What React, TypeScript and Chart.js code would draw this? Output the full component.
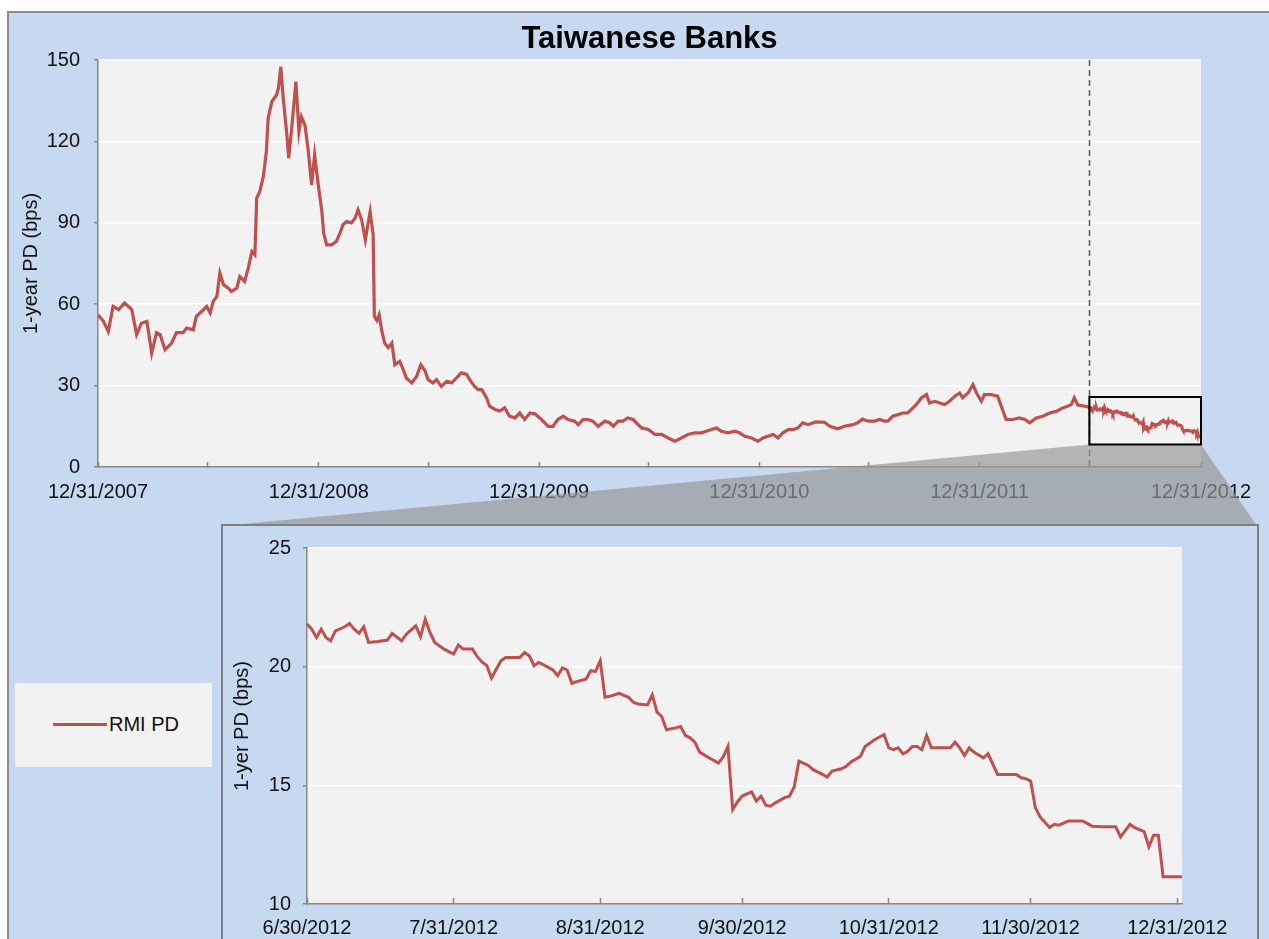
import React, { useEffect, useRef } from "react";
import { Chart, registerables } from "chart.js";

Chart.register(...registerables);

const FONT = '"Liberation Sans", Arial, Helvetica, sans-serif';
const LINE_COLOR = "#C0504D";
const PLOT_BG = "#F2F2F2";
const FRAME_BG = "#C6D9F1";
const AXIS_COLOR = "#878787";
const SERIES_LABEL = "RMI PD";

// ---- Top chart: days since 12/31/2007 and 1-year PD (bps) ----
const topDays = [
  0, 9, 17, 25, 34, 44, 56, 64, 72, 81, 89, 97, 103, 111, 122, 130, 141, 147, 158, 163,
  172, 180, 186, 191, 197, 202, 208, 216, 221, 230, 235, 243, 249, 255, 260, 263, 268, 274, 279, 282,
  288, 296, 299, 303, 307, 313, 316, 321, 328, 333, 337, 343, 348, 354, 359, 365, 371, 374, 379, 387,
  395, 401, 406, 412, 420, 426, 431, 437, 443, 451, 456, 458, 462, 466, 470, 475, 481, 487, 492, 500,
  506, 511, 520, 528, 535, 542, 547, 555, 561, 569, 578, 586, 594, 602, 611, 616, 624, 630, 636, 644,
  649, 658, 666, 674, 682, 691, 699, 707, 716, 724, 735, 746, 754, 762, 771, 779, 790, 796, 804, 812,
  820, 829, 840, 848, 854, 862, 870, 878, 887, 892, 901, 912, 923, 934, 945, 956, 967, 978, 989, 1000,
  1008, 1017, 1025, 1033, 1044, 1055, 1063, 1072, 1083, 1094, 1102, 1110, 1119, 1127, 1135, 1144, 1152, 1160, 1168, 1177,
  1189, 1204, 1213, 1226, 1237, 1251, 1259, 1267, 1276, 1287, 1295, 1304, 1309, 1317, 1326, 1334, 1342, 1348, 1356, 1365,
  1373, 1378, 1387, 1395, 1403, 1411, 1420, 1428, 1433, 1442, 1450, 1456, 1464, 1469, 1480, 1491, 1497, 1505, 1516, 1527,
  1536, 1544, 1555, 1566, 1577, 1588, 1599, 1607, 1613, 1618, 1624, 1632, 1640,
];
const topValues = [
  56.1, 53.7, 50, 59.2, 58, 60.4, 58, 48.8, 53, 53.7, 42, 49.5, 48.8, 43.2, 45.7, 49.5, 49.5, 51.2, 50.6, 55.5,
  57.4, 59.2, 56.8, 61, 62.9, 71.5, 67.2, 65.9, 64.7, 65.9, 70.2, 68.4, 73.3, 79.4, 78.2, 99.1, 101.5, 107, 116.2, 128.5,
  134.6, 137.1, 139.6, 147.5, 135.9, 122.4, 113.8, 124.8, 142, 123.6, 129.1, 126, 117.5, 104, 115, 104, 94.2, 86.2, 81.9, 81.9,
  83.1, 86.2, 89.3, 90.5, 90, 91.7, 94.8, 91, 83.7, 94.1, 85.6, 55.5, 54, 56.1, 50.6, 45.7, 44, 45.7, 37.7, 38.9,
  35.9, 32.8, 31, 33.4, 37.7, 35.5, 32.2, 31, 32.2, 29.7, 31.6, 31, 32.8, 34.7, 34.1, 32.2, 29.7, 28.5, 28.5, 25.5,
  22.4, 21.2, 20.6, 21.8, 18.7, 18.1, 19.9, 17.5, 19.9, 19.6, 17.5, 15, 15, 17.5, 18.7, 17.5, 16.9, 15.6, 17.5, 17.5,
  16.9, 15, 16.9, 16.3, 15, 16.9, 16.9, 18.1, 17.5, 16.3, 14.4, 13.8, 12, 12, 10.7, 9.5, 10.7, 12, 12.6, 12.6,
  13.2, 13.8, 14.4, 13.2, 12.6, 13.2, 12.6, 11.3, 10.7, 9.5, 10.7, 11.3, 12, 10.7, 12.6, 13.8, 13.8, 14.4, 16.3, 15.6,
  16.6, 16.5, 15, 14.1, 15, 15.6, 16.3, 17.7, 16.9, 16.9, 17.5, 16.9, 16.9, 18.7, 19.3, 19.9, 19.9, 21.2, 23, 25.5,
  26.7, 23.6, 24.2, 23.6, 23, 24.2, 26.1, 27.3, 25.5, 27.3, 30.4, 27.3, 24.2, 26.7, 26.7, 26.1, 22.4, 17.5, 17.5, 18.1,
  17.5, 16.3, 18.1, 18.7, 19.9, 20.5, 21.8, 22.4, 23, 25.5, 22.8, 22.5, 22.2,
];
const topTickDays = [0, 182, 366, 547, 731, 912, 1096, 1277, 1461, 1643, 1828];
const topTickLabels = ["12/31/2007", "", "12/31/2008", "", "12/31/2009", "", "12/31/2010", "", "12/31/2011", "", "12/31/2012"];

// ---- Inset: days since 6/30/2012 ----
const INSET_START_DAY = 1643; // 6/30/2012 in top-chart days
const insetDays = [
  0, 1, 2, 3, 4, 5, 6, 8, 9, 10, 11, 12, 13, 15, 17, 18, 20, 21, 23, 24,
  25, 26, 27, 29, 31, 32, 33, 35, 36, 37, 38, 39, 41, 42, 45, 46, 47, 48, 49, 50,
  51, 52, 53, 54, 55, 56, 57, 59, 60, 61, 62, 63, 64, 66, 68, 69, 70, 72, 73, 74,
  75, 76, 78, 79, 80, 81, 82, 83, 85, 87, 88, 89, 90, 91, 92, 94, 95, 96, 97, 98,
  99, 101, 102, 103, 104, 106, 107, 109, 110, 111, 113, 114, 115, 116, 117, 118, 120, 122, 123, 124,
  125, 126, 127, 128, 129, 130, 131, 132, 135, 136, 137, 138, 139, 140, 141, 143, 144, 146, 148, 150,
  151, 152, 153, 154, 155, 157, 158, 159, 161, 162, 164, 166, 168, 171, 172, 174, 175, 177, 178, 179,
  180, 181, 183, 185,
];
const insetValues = [
  21.8, 21.58, 21.23, 21.58, 21.23, 21.09, 21.51, 21.68, 21.82, 21.58, 21.41, 21.68, 21.02, 21.06, 21.12, 21.4, 21.09, 21.37, 21.72, 21.26,
  22.0, 21.44, 21.02, 20.74, 20.53, 20.92, 20.74, 20.74, 20.42, 20.2, 20.05, 19.52, 20.25, 20.39, 20.39, 20.6, 20.46, 20.04, 20.18, 20.08,
  19.97, 19.86, 19.62, 19.95, 19.86, 19.3, 19.37, 19.48, 19.83, 19.8, 20.25, 18.71, 18.75, 18.88, 18.71, 18.5, 18.43, 18.39, 18.81, 18.08,
  17.9, 17.34, 17.42, 17.48, 17.1, 17.0, 16.82, 16.4, 16.16, 15.94, 16.2, 16.64, 13.98, 14.3, 14.55, 14.72, 14.34, 14.54, 14.16, 14.12,
  14.26, 14.48, 14.54, 14.93, 16.02, 15.84, 15.66, 15.46, 15.35, 15.6, 15.7, 15.8, 15.98, 16.1, 16.22, 16.64, 16.92, 17.14, 16.58, 16.5,
  16.58, 16.33, 16.43, 16.64, 16.64, 16.5, 17.1, 16.58, 16.58, 16.58, 16.82, 16.58, 16.26, 16.58, 16.4, 16.16, 16.33, 15.46, 15.46, 15.46,
  15.32, 15.28, 15.18, 14.06, 13.67, 13.22, 13.36, 13.32, 13.5, 13.5, 13.5, 13.28, 13.25, 13.25, 12.83, 13.36, 13.22, 13.05, 12.41, 12.9,
  12.9, 11.15, 11.15, 11.15,
];
const insetTickDays = [0, 31, 62, 92, 123, 153, 184];
const insetTickLabels = ["6/30/2012", "7/31/2012", "8/31/2012", "9/30/2012", "10/31/2012", "11/30/2012", "12/31/2012"];

// zoom box value range drawn on the top chart
const BOX_TOP = 25.8;
const BOX_BOTTOM = 8.3;

// layout (page pixels)
const TOP_W = 1290;
const TOP_H = 530;
const INSET_BOX = { left: 221, top: 524, right: 1257 };
const INSET_W = 1036;
const INSET_H = 420;

const plotBg = {
  id: "plotBg",
  beforeDraw(chart: any) {
    const { ctx, chartArea: a } = chart;
    ctx.save();
    ctx.fillStyle = PLOT_BG;
    ctx.fillRect(a.left, a.top, a.right - a.left, a.bottom - a.top);
    ctx.restore();
  },
};

const zoomMarks = {
  id: "zoomMarks",
  beforeDatasetsDraw(chart: any) {
    const { ctx, chartArea: a, scales } = chart;
    const px = Math.round(scales.x.getPixelForValue(INSET_START_DAY)) + 0.5;
    ctx.save();
    ctx.strokeStyle = "#595959";
    ctx.lineWidth = 1.5;
    ctx.setLineDash([6, 4]);
    ctx.beginPath();
    ctx.moveTo(px, a.top);
    ctx.lineTo(px, a.bottom);
    ctx.stroke();
    ctx.restore();
  },
  afterDraw(chart: any) {
    const { ctx, scales } = chart;
    const l = scales.x.getPixelForValue(INSET_START_DAY);
    const r = chart.chartArea.right;
    const t = scales.y.getPixelForValue(BOX_TOP);
    const b = scales.y.getPixelForValue(BOX_BOTTOM);
    ctx.save();
    ctx.fillStyle = "rgba(151,151,151,0.68)";
    ctx.beginPath();
    ctx.moveTo(l, b);
    ctx.lineTo(r, b);
    ctx.lineTo(INSET_BOX.right, INSET_BOX.top + 2);
    ctx.lineTo(INSET_BOX.left, INSET_BOX.top + 2);
    ctx.closePath();
    ctx.fill();
    ctx.strokeStyle = "#000";
    ctx.lineWidth = 2;
    ctx.strokeRect(l, t, r - l, b - t);
    ctx.restore();
  },
};

const tickFont = { family: FONT, size: 20 };

export default function App() {
  const topRef = useRef<HTMLCanvasElement>(null);
  const insetRef = useRef<HTMLCanvasElement>(null);

  useEffect(() => {
    const topData = [
      ...topDays.map((d, i) => ({ x: d, y: topValues[i] })),
      ...insetDays.map((d, i) => ({ x: INSET_START_DAY + d, y: insetValues[i] })),
    ];
    const insetData = insetDays.map((d, i) => ({ x: d, y: insetValues[i] }));

    const topChart = new Chart(topRef.current as HTMLCanvasElement, {
      type: "line",
      data: {
        datasets: [
          {
            label: SERIES_LABEL,
            data: topData,
            borderColor: LINE_COLOR,
            borderWidth: 3.2,
            pointRadius: 0,
            tension: 0,
            fill: false,
          },
        ],
      },
      options: {
        responsive: false,
        animation: false,
        layout: { padding: { left: 0, right: TOP_W - 1201, top: 0, bottom: 0 } },
        plugins: {
          legend: { display: false },
          tooltip: { enabled: false },
          title: {
            display: true,
            text: "Taiwanese Banks",
            color: "#000",
            fullSize: false,
            font: { family: FONT, size: 31, weight: "bold", lineHeight: 1.1 },
            padding: { top: 22, bottom: 3.9 },
          },
        },
        scales: {
          x: {
            type: "linear",
            min: 0,
            max: 1828,
            afterBuildTicks: (s: any) => {
              s.ticks = topTickDays.map((v) => ({ value: v }));
            },
            afterFit: (s: any) => {
              s.height = TOP_H - 467;
            },
            ticks: {
              autoSkip: false,
              maxRotation: 0,
              minRotation: 0,
              padding: 18,
              color: "#111",
              font: tickFont,
              callback: (_v: any, i: number) => topTickLabels[i] ?? "",
            },
            grid: {
              display: true,
              drawOnChartArea: false,
              drawTicks: true,
              tickLength: -5,
              tickColor: AXIS_COLOR,
              tickWidth: 1.5,
            },
            border: { display: true, color: AXIS_COLOR, width: 1.5 },
          },
          y: {
            min: 0,
            max: 150,
            afterFit: (s: any) => {
              s.width = 98;
            },
            ticks: { stepSize: 30, padding: 14, color: "#111", font: tickFont },
            grid: {
              color: (c: any) => (c.tick && c.tick.value === 0 ? "rgba(0,0,0,0)" : "#FFFFFF"),
              lineWidth: 1.5,
              drawTicks: true,
              tickLength: 4,
              tickColor: AXIS_COLOR,
            },
            border: { display: true, color: AXIS_COLOR, width: 1.5 },
            title: {
              display: true,
              text: "1-year PD (bps)",
              color: "#111",
              font: { family: FONT, size: 20 },
              padding: { top: 19, bottom: 0 },
            },
          },
        },
      },
      plugins: [plotBg, zoomMarks],
    } as any);

    const insetChart = new Chart(insetRef.current as HTMLCanvasElement, {
      type: "line",
      data: {
        datasets: [
          {
            label: SERIES_LABEL,
            data: insetData,
            borderColor: LINE_COLOR,
            borderWidth: 3,
            pointRadius: 0,
            tension: 0,
            fill: false,
          },
        ],
      },
      options: {
        responsive: false,
        animation: false,
        layout: { padding: { left: 0, right: INSET_W - 961, top: 23, bottom: 0 } },
        plugins: { legend: { display: false }, tooltip: { enabled: false } },
        scales: {
          x: {
            type: "linear",
            min: 0,
            max: 185,
            afterBuildTicks: (s: any) => {
              s.ticks = insetTickDays.map((v) => ({ value: v }));
            },
            afterFit: (s: any) => {
              s.height = INSET_H - 380;
            },
            ticks: {
              autoSkip: false,
              maxRotation: 0,
              minRotation: 0,
              padding: 18,
              color: "#111",
              font: tickFont,
              callback: (_v: any, i: number) => insetTickLabels[i] ?? "",
            },
            grid: {
              display: true,
              drawOnChartArea: false,
              drawTicks: true,
              tickLength: -6,
              tickColor: AXIS_COLOR,
              tickWidth: 1.5,
            },
            border: { display: true, color: AXIS_COLOR, width: 1.5 },
          },
          y: {
            min: 10,
            max: 25,
            afterFit: (s: any) => {
              s.width = 86;
            },
            ticks: { stepSize: 5, padding: 12, color: "#111", font: tickFont },
            grid: {
              color: (c: any) => (c.tick && c.tick.value === 10 ? "rgba(0,0,0,0)" : "#FFFFFF"),
              lineWidth: 1.5,
              drawTicks: true,
              tickLength: 4,
              tickColor: AXIS_COLOR,
            },
            border: { display: true, color: AXIS_COLOR, width: 1.5 },
            title: {
              display: true,
              text: "1-yer PD (bps)",
              color: "#111",
              font: { family: FONT, size: 20 },
              padding: { top: 9.5, bottom: 0 },
            },
          },
        },
      },
      plugins: [plotBg],
    } as any);

    return () => {
      topChart.destroy();
      insetChart.destroy();
    };
  }, []);

  return (
    <div
      style={{
        position: "absolute",
        left: 0,
        top: 0,
        width: 1269,
        height: 939,
        overflow: "hidden",
        background: "#FFFFFF",
      }}
    >
      <div
        style={{
          position: "absolute",
          left: 7,
          top: 11,
          width: 1320,
          height: 1000,
          background: FRAME_BG,
          border: "2px solid #8C8C8C",
          boxSizing: "border-box",
        }}
      />
      <canvas
        ref={topRef}
        width={TOP_W}
        height={TOP_H}
        style={{ position: "absolute", left: 0, top: 0, width: TOP_W, height: TOP_H, display: "block" }}
      />
      <div
        style={{
          position: "absolute",
          left: INSET_BOX.left,
          top: INSET_BOX.top,
          width: INSET_BOX.right - INSET_BOX.left + 2,
          height: 500,
          background: FRAME_BG,
          border: "2px solid #7F7F7F",
          boxSizing: "border-box",
        }}
      />
      <canvas
        ref={insetRef}
        width={INSET_W}
        height={INSET_H}
        style={{
          position: "absolute",
          left: INSET_BOX.left,
          top: INSET_BOX.top,
          width: INSET_W,
          height: INSET_H,
          display: "block",
        }}
      />
      <div
        style={{
          position: "absolute",
          left: 15,
          top: 683,
          width: 197,
          height: 84,
          background: PLOT_BG,
        }}
      >
        <div
          style={{
            position: "absolute",
            left: 38,
            top: 39.5,
            width: 54,
            height: 3,
            background: LINE_COLOR,
          }}
        />
        <span
          style={{
            position: "absolute",
            left: 94,
            top: 29,
            fontFamily: FONT,
            fontSize: 20,
            lineHeight: "24px",
            color: "#111",
            whiteSpace: "nowrap",
          }}
        >
          {SERIES_LABEL}
        </span>
      </div>
    </div>
  );
}
